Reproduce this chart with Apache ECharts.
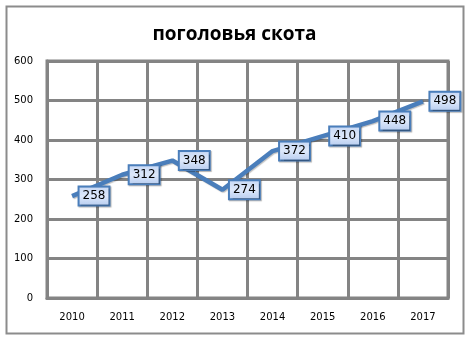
<!DOCTYPE html>
<html><head><meta charset="utf-8">
<script src="https://cdn.jsdelivr.net/npm/echarts@6/dist/echarts.min.js"></script>
<style>html,body{margin:0;padding:0;background:#fff}#c{width:469px;height:337px}</style>
</head><body><div id="c"></div>
<script>
const title = 'поголовья скота';
const years = ['2010','2011','2012','2013','2014','2015','2016','2017'];
const values = [258, 312, 348, 274, 372, 410, 448, 498];
const yTicks = [0, 100, 200, 300, 400, 500, 600];

const chart = echarts.init(document.getElementById('c'), null, {renderer:'canvas'});
chart.setOption({
  animation: false,
  backgroundColor: '#fff',
  title: {
    text: title, left: 'center', top: 20,
    textStyle: {fontFamily: 'Open Sans', fontWeight: 'bold', fontSize: 19, color: '#000'}
  },
  graphic: [{
    type: 'rect', shape: {x: 6.5, y: 6.5, width: 457, height: 327},
    style: {fill: 'none', stroke: '#8c8c8c', lineWidth: 2}, z: -1
  }],
  grid: {left: 47, right: 21, top: 61, bottom: 39, show: true, borderColor: '#848484', borderWidth: 3},
  xAxis: {
    type: 'category', data: years, boundaryGap: true,
    axisLine: {lineStyle: {color: '#848484', width: 3}},
    axisTick: {show: false},
    splitLine: {show: true, interval: 0, lineStyle: {color: '#848484', width: 3}},
    axisLabel: {color: '#000', fontFamily: 'DejaVu Sans', fontSize: 10, margin: 14, interval: 0}
  },
  yAxis: {
    type: 'value', min: 0, max: 600, interval: 100,
    axisLine: {show: true, lineStyle: {color: '#848484', width: 3}},
    axisTick: {show: false},
    splitLine: {lineStyle: {color: '#848484', width: 3}},
    axisLabel: {color: '#000', fontFamily: 'DejaVu Sans', fontSize: 10, margin: 14,
      formatter: v => yTicks.includes(v) ? String(v) : ''}
  },
  series: [{
    type: 'line', data: values, symbol: 'circle', symbolSize: 1, showSymbol: true,
    itemStyle: {color: '#4a7ebb', opacity: 0},
    lineStyle: {color: '#4a7ebb', width: 4.5, shadowColor: 'rgba(0,0,0,0.25)', shadowOffsetX: 1, shadowOffsetY: 1, shadowBlur: 1},
    label: {
      show: true, position: 'right', distance: 7, opacity: 1,
      color: '#000', fontFamily: 'DejaVu Sans', fontSize: 12,
      backgroundColor: {
        type: 'linear', x: 0, y: 0, x2: 0, y2: 1,
        colorStops: [{offset: 0, color: '#c6d7f4'}, {offset: 0.5, color: '#dde8fa'}, {offset: 1, color: '#b5cbef'}]
      },
      borderColor: '#4a7ebb', borderWidth: 2,
      padding: [3, 3, 2, 3],
      shadowColor: 'rgba(0,0,0,0.3)', shadowOffsetX: 1, shadowOffsetY: 1, shadowBlur: 1
    }
  }]
});
</script></body></html>
